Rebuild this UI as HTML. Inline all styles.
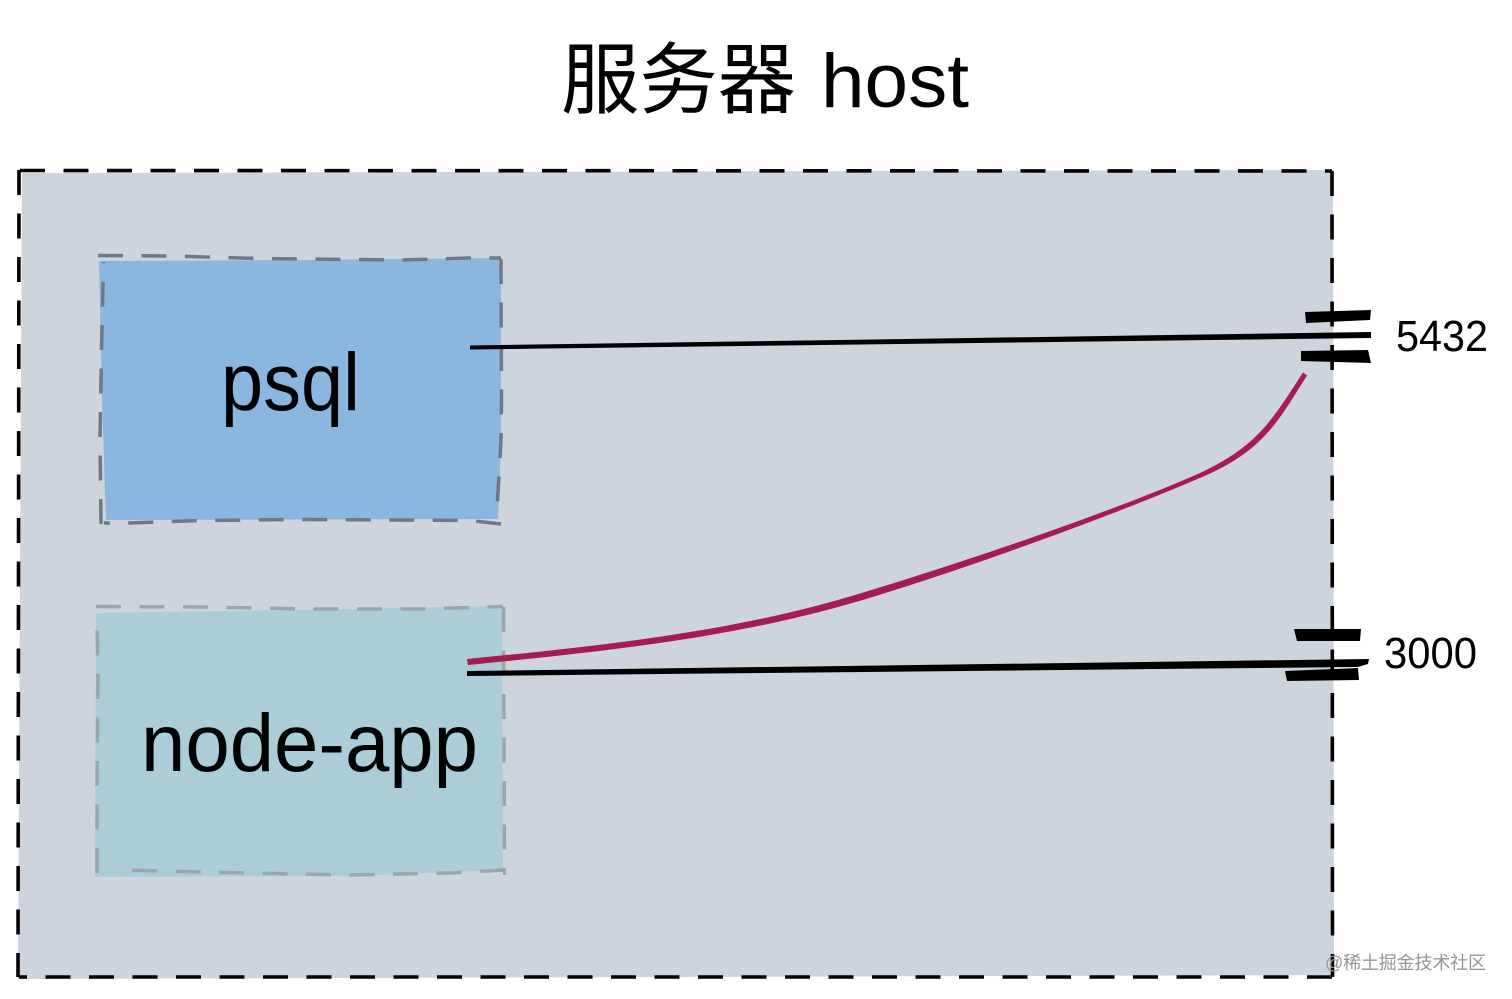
<!DOCTYPE html>
<html>
<head>
<meta charset="utf-8">
<style>
html,body{margin:0;padding:0;background:#fff;width:1512px;height:999px;overflow:hidden}
svg{display:block}
text{font-family:"Liberation Sans","Noto Sans CJK SC",sans-serif;fill:#000}
</style>
</head>
<body>
<svg width="1512" height="999" viewBox="0 0 1512 999" xmlns="http://www.w3.org/2000/svg">
<rect width="1512" height="999" fill="#fff"/>

<!-- title -->
<text x="561" y="107" font-size="78" textLength="235" lengthAdjust="spacingAndGlyphs" style='font-family:"Noto Sans CJK SC",sans-serif'>服务器</text>
<text x="821" y="107" font-size="76" textLength="148" lengthAdjust="spacingAndGlyphs">host</text>

<!-- host -->
<polygon points="22,173 1333,170 1334,975 18,979" fill="#ced4dc"/>
<g fill="none" stroke="#000" stroke-width="3.6" stroke-dasharray="25 18.5">
<path d="M20 170.5 L1332 171"/>
<path d="M19 170 L18 977"/>
<path d="M1332 171 L1332.5 977"/>
<path d="M1332 977 L19 977"/>
</g>

<!-- psql -->
<polygon points="99,261 300,260 501,258 501,330 501,440 498,519 106,520 102,400" fill="#8ab6e0"/>
<g fill="none" stroke="#6e7886" stroke-width="3.5" stroke-dasharray="25 18.5">
<path d="M98 255.500 L170 256 L260 258.500 L400 260 L470 258 L501 258"/>
<path d="M501 259 L501.500 400 L501 440 L497 510"/>
<path d="M501 524 L470 520.500 L300 519.500 L200 520.500 L128 523 L104 523"/>
<path d="M101 524 L100 440 L101.500 350 L103.500 262"/>
</g>

<!-- node-app -->
<polygon points="96,613 300,610 502,606 503,870 350,876 95,877" fill="#aacdd7"/>
<g fill="none" stroke="#98a7ad" stroke-width="3.5" stroke-dasharray="25 18.5">
<path d="M96 606.500 L200 607 L310 609 L420 609 L503 606.500"/>
<path d="M503.500 607 L504.500 875"/>
<path d="M505 870 L450 873 L350 875 L200 872 L125 870"/>
<path d="M97 873 L97 780 L98 680 L97 620"/>
</g>

<!-- labels -->
<text x="221" y="410" font-size="82" textLength="139" lengthAdjust="spacingAndGlyphs">psql</text>
<text x="141" y="771" font-size="82" textLength="337" lengthAdjust="spacingAndGlyphs">node-app</text>
<text x="1396" y="351" font-size="44" textLength="92" lengthAdjust="spacingAndGlyphs">5432</text>
<text x="1384" y="668" font-size="44" textLength="93" lengthAdjust="spacingAndGlyphs">3000</text>

<!-- ticks 5432 -->
<polygon points="1305,312 1371,310 1370,320 1306,323" fill="#000"/>
<polygon points="1301,351 1368,350 1371,363 1301,361" fill="#000"/>
<!-- ticks 3000 -->
<polygon points="1294,629 1361,629 1360,641 1297,641" fill="#000"/>
<polygon points="1285,671 1358,668 1359,680 1287,681" fill="#000"/>

<!-- connectors -->
<polygon points="470,345.500 1371,332 1371,338 470,349.500" fill="#000"/>
<polygon points="467,671 1369,659 1368,664 1358,667 467,676" fill="#000"/>
<path d="M467 659 C 620 644 740 630 860 593.500 C 980 557 1120 508.500 1200 473 C 1258 446 1272 420 1303 372.500 L1307 375.500 C 1277 423 1263 451 1201 477.500 C 1121 512 981 564 861 600.500 C 741 636 621 650 468 665 Z" fill="#a61c50"/>

<!-- watermark -->
<text x="1325" y="969" font-size="18" style='fill:#959595;font-family:"Liberation Sans","Noto Sans CJK SC",sans-serif' textLength="161">@稀土掘金技术社区</text>
</svg>
</body>
</html>
